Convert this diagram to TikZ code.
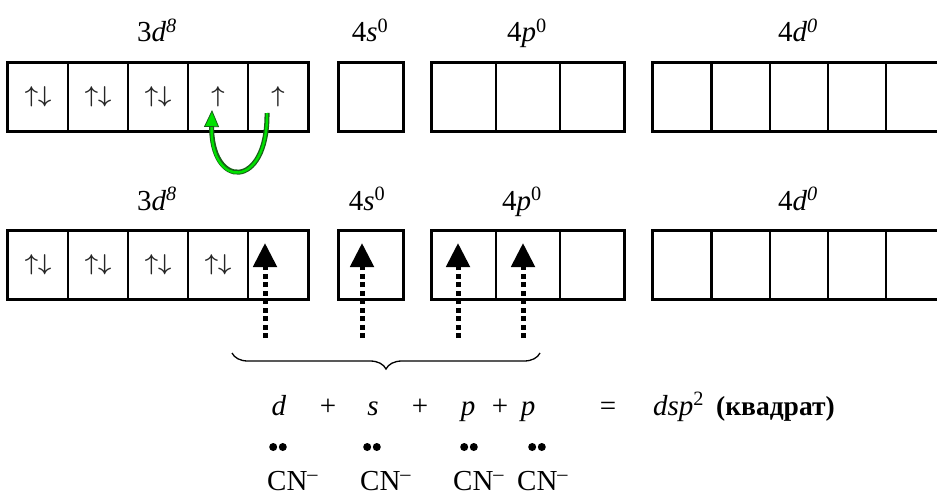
\documentclass[tikz,border=0pt]{standalone}
\usepackage{fontspec}
\setmainfont{Liberation Serif}
\usetikzlibrary{arrows.meta,decorations.pathreplacing}

\definecolor{leafgreen}{RGB}{0,225,0}
\definecolor{leafedge}{RGB}{25,95,25}

% electrons in one orbital
\newcommand\spinpair{\scalebox{2.3}{\boldmath$\uparrow\downarrow$}}
\newcommand\spinone{\scalebox{2.3}{\boldmath$\uparrow$}}

\begin{document}
\begin{tikzpicture}[x=1pt,y=-1pt,
  cell/.style={draw, line width=1.8pt, minimum width=#1, minimum height=67pt,
    inner sep=0pt, anchor=center, font=\fontsize{10}{12}\selectfont,
    text=black!85},
  frame/.style={line width=3pt},
  sublabel/.style={anchor=base, inner sep=0pt, font=\fontsize{29}{32}\selectfont},
  eqtext/.style={anchor=base, inner sep=0pt, font=\fontsize{29}{32}\selectfont},
  pull/.style={line width=5pt, dash pattern=on 5pt off 3.5pt,
    -{Triangle[length=24pt,width=23pt]}},
]
\path[use as bounding box, clip] (0,0) rectangle (937,495);

% ---------- ground state: 3d8 4s0 4p0 4d0 ----------
\foreach \i/\x/\t in {1/38/\spinpair,2/98/\spinpair,3/158/\spinpair,4/218/\spinone,5/278/\spinone}
  \node[cell=60pt] (a\i) at (\x,97) {\t};
\node[cell=64pt] (as) at (371,97) {};
\foreach \i/\x in {1/464,2/528,3/592}
  \node[cell=64pt] (ap\i) at (\x,97) {};
\foreach \i/\x in {1/682,2/741,3/799,4/857,5/915}
  \node[cell=58pt] (aq\i) at (\x,97) {};
\draw[frame] (a1.north west) rectangle (a5.south east);
\draw[frame] (as.north west) rectangle (as.south east);
\draw[frame] (ap1.north west) rectangle (ap3.south east);
\draw[frame] (aq1.north west) rectangle (aq5.south east);

\node[sublabel] (la) at (157,42) {3\textit{d}\textsuperscript{\textit{8}}};
\node[sublabel] (lb) at (370,42) {4\textit{s}\textsuperscript{0}};
\node[sublabel] (lc) at (527,42) {4\textit{p}\textsuperscript{0}};
\node[sublabel] (ld) at (798,42) {4\textit{d}\textsuperscript{\textit{0}}};

% electron moved into the half-filled orbital
\coordinate (gs) at (267,113);
\coordinate (ge) at (212,110);
\draw[line width=5pt, leafedge, shorten >=14pt]
  (gs) .. controls (268,190) and (210,190) .. (ge);
\draw[line width=2.4pt, leafgreen,
  -{Triangle[length=17pt,width=15pt,fill=leafgreen,color=leafedge,line width=0.8pt]}]
  (gs) .. controls (268,190) and (210,190) .. (ge);

% ---------- excited state ----------
\foreach \i/\x/\t in {1/38/\spinpair,2/98/\spinpair,3/158/\spinpair,4/218/\spinpair,5/278/{}}
  \node[cell=60pt] (b\i) at (\x,265) {\t};
\node[cell=64pt] (bs) at (371,265) {};
\foreach \i/\x in {1/464,2/528,3/592}
  \node[cell=64pt] (bp\i) at (\x,265) {};
\foreach \i/\x in {1/682,2/741,3/799,4/857,5/915}
  \node[cell=58pt] (bq\i) at (\x,265) {};
\draw[frame] (b1.north west) rectangle (b5.south east);
\draw[frame] (bs.north west) rectangle (bs.south east);
\draw[frame] (bp1.north west) rectangle (bp3.south east);
\draw[frame] (bq1.north west) rectangle (bq5.south east);

\node[sublabel] (lba) at (157,210) {3\textit{d}\textsuperscript{\textit{8}}};
\node[sublabel] (lbb) at (367,210) {4\textit{s}\textsuperscript{0}};
\node[sublabel] (lbc) at (522,210) {4\textit{p}\textsuperscript{0}};
\node[sublabel] (lbd) at (798,210) {4\textit{d}\textsuperscript{\textit{0}}};

% ligand pairs entering the vacant orbitals
\foreach \k/\x in {1/265,2/362,3/458,4/523}{
  \coordinate (s\k) at (\x,338);
  \coordinate (t\k) at (\x,243);
  \draw[pull] (s\k) -- (t\k);
}

% hybridisation brace
\coordinate (bl) at (232,353);
\coordinate (br) at (540,353);
\draw[line width=1.3pt, decorate, decoration={brace, mirror, amplitude=16pt}] (bl) -- (br);

% ---------- d + s + p + p = dsp2 ----------
\node[eqtext] (ed)  at (279,415) {\textit{d}};
\node[eqtext] (ep1) at (328,415) {+};
\node[eqtext] (es)  at (373,415) {\textit{s}};
\node[eqtext] (ep2) at (420,415) {+};
\node[eqtext] (ep)  at (468,415) {\textit{p}};
\node[eqtext] (ep3) at (500,415) {+};
\node[eqtext] (epp) at (528,415) {\textit{p}};
\node[eqtext] (eq)  at (608,415) {=};
\node[eqtext, anchor=base west] (eres) at (653,415) {\textit{dsp}\textsuperscript{2}};
\node[eqtext, anchor=base west, font=\fontsize{27.5}{30}\selectfont] (eshape) at (716,415)
  {\textbf{(квадрат)}};

% lone pairs of the cyanide ligands
\foreach \x in {278,372,469,537}{
  \fill (\x-4.8,447) circle (4pt);
  \fill (\x+4.8,447) circle (4pt);
}
\node[eqtext, anchor=base west] (cn1) at (267,490) {CN\textsuperscript{–}};
\node[eqtext, anchor=base west] (cn2) at (360,490) {CN\textsuperscript{–}};
\node[eqtext, anchor=base west] (cn3) at (453,490) {CN\textsuperscript{–}};
\node[eqtext, anchor=base west] (cn4) at (517,490) {CN\textsuperscript{–}};
\end{tikzpicture}
\end{document}
